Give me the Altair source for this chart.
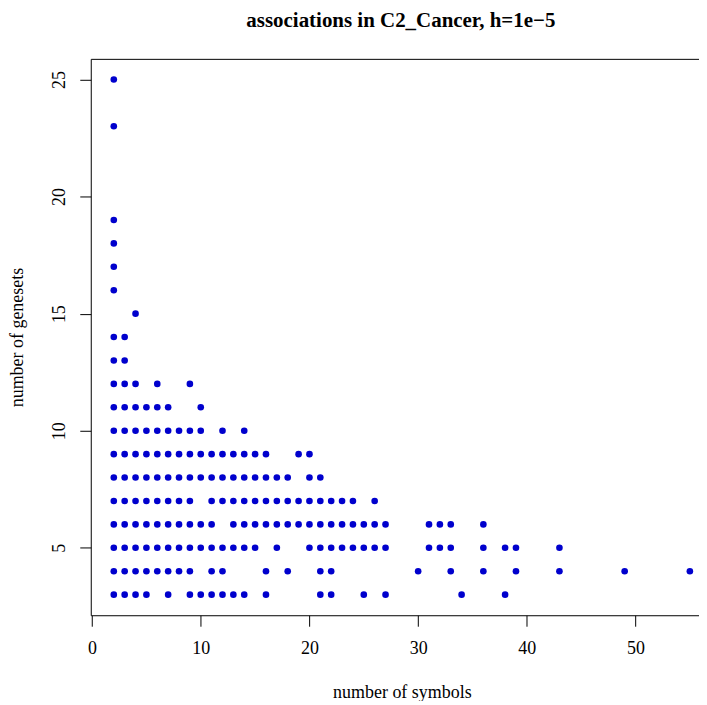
import altair as alt
import pandas as pd

# number of symbols observed for each number of genesets
g25 = [2]
g23 = [2]
g19 = [2]
g18 = [2]
g17 = [2]
g16 = [2]
g15 = [4]
g14 = [2, 3]
g13 = [2, 3]
g12 = [2, 3, 4, 6, 9]
g11 = [2, 3, 4, 5, 6, 7, 10]
g10 = [2, 3, 4, 5, 6, 7, 8, 9, 10, 12, 14]
g9 = [2, 3, 4, 5, 6, 7, 8, 9, 10, 11, 12, 13, 14, 15, 16, 19, 20]
g8 = [2, 3, 4, 5, 6, 7, 8, 9, 10, 11, 12, 13, 14, 15, 16, 17, 18, 20, 21]
g7 = [2, 3, 4, 5, 6, 7, 8, 9, 11, 12, 13, 14, 15, 16, 17, 18, 19, 20, 21, 22, 23, 24, 26]
g6 = [2, 3, 4, 5, 6, 7, 8, 9, 10, 11, 13, 14, 15, 16, 17, 18, 19, 20, 21, 22, 23, 24, 25, 26, 27,
      31, 32, 33, 36]
g5 = [2, 3, 4, 5, 6, 7, 8, 9, 10, 11, 12, 13, 14, 15, 17, 20, 21, 22, 23, 24, 25, 26, 27,
      31, 32, 33, 36, 38, 39, 43]
g4 = [2, 3, 4, 5, 6, 7, 8, 9, 11, 12, 16, 18, 21, 22, 30, 33, 36, 39, 43, 49, 55]
g3 = [2, 3, 4, 5, 7, 9, 10, 11, 12, 13, 14, 16, 21, 22, 25, 27, 34, 38]

rows = {25: g25, 23: g23, 19: g19, 18: g18, 17: g17, 16: g16, 15: g15, 14: g14, 13: g13,
        12: g12, 11: g11, 10: g10, 9: g9, 8: g8, 7: g7, 6: g6, 5: g5, 4: g4, 3: g3}

x_ticks = [0, 10, 20, 30, 40, 50]
y_ticks = [5, 10, 15, 20, 25]

recs = []
for gs, syms in rows.items():
    for s in syms:
        recs.append({"symbols": s, "genesets": gs})
df = pd.DataFrame(recs)

FONT = "Liberation Serif"
W, H = 610, 558
FS = 18

xscale = alt.Scale(domain=[-0.12, 55.84], nice=False, zero=False)
yscale = alt.Scale(domain=[2.12, 25.88], nice=False, zero=False)

y_axis = alt.Axis(values=y_ticks, grid=False, title="number of genesets",
                  domainColor="black", domainWidth=1, tickColor="black",
                  tickWidth=1, tickSize=11, labelPadding=15,
                  labelFont=FONT, labelFontSize=FS, labelColor="black",
                  labelAngle=270, labelAlign="center", labelBaseline="alphabetic",
                  labelFlush=False,
                  titleFont=FONT, titleFontSize=FS, titleFontWeight="normal",
                  titleColor="black", titleAngle=270, titleX=-68, titleY=H / 2,
                  titleAlign="center", titleBaseline="alphabetic")

points = alt.Chart(df).mark_circle(size=44, opacity=1, color="#0000CD").encode(
    x=alt.X("symbols:Q", scale=xscale,
            axis=alt.Axis(values=x_ticks, grid=False, title="number of symbols",
                          domainColor="black", domainWidth=1, tickColor="black",
                          tickWidth=1, tickSize=11, labelPadding=13,
                          labelFont=FONT, labelFontSize=FS, labelColor="black",
                          labelBaseline="top", labelFlush=False,
                          titleFont=FONT, titleFontSize=FS, titleFontWeight="normal",
                          titleColor="black", titleX=312, titleY=82,
                          titleAlign="center", titleBaseline="alphabetic")),
    y=alt.Y("genesets:Q", scale=yscale, axis=y_axis),
)

frame = alt.Chart(df).mark_circle(opacity=0).encode(
    x=alt.X("symbols:Q", scale=xscale,
            axis=alt.Axis(orient="top", labels=False, ticks=False, grid=False, title=None,
                          domainColor="black", domainWidth=1)),
    y=alt.Y("genesets:Q", scale=yscale, axis=y_axis),
)

chart = alt.layer(points, frame).resolve_axis(x="independent").properties(
    width=W, height=H,
    title=alt.TitleParams("associations in C2_Cancer, h=1e\u22125", font=FONT, fontSize=21,
                          fontWeight="bold", color="black", anchor="middle", dx=6,
                          offset=11, baseline="alphabetic", frame="group"),
    autosize=alt.AutoSizeParams(type="none"),
    padding={"left": 83, "top": 50, "right": 0, "bottom": 85},
).configure_view(stroke=None)

chart.save("out.html", embed_options={"renderer": "svg", "actions": False})
